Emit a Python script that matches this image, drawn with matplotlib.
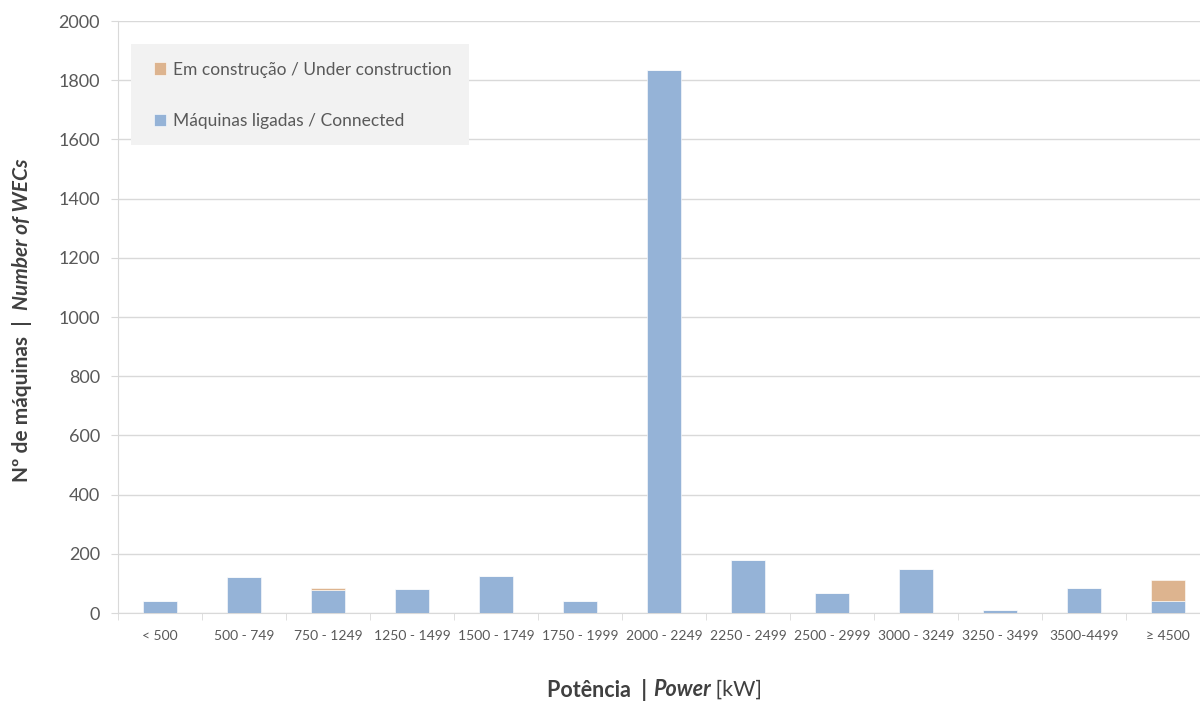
import numpy as np
import matplotlib.pyplot as plt
from matplotlib.patches import Rectangle

categories = ["< 500", "500 - 749", "750 - 1249", "1250 - 1499", "1500 - 1749",
              "1750 - 1999", "2000 - 2249", "2250 - 2499", "2500 - 2999",
              "3000 - 3249", "3250 - 3499", "3500-4499", "\u2265 4500"]
connected = [42, 121, 78, 80, 126, 40, 1835, 178, 66, 150, 9, 85, 40]
under_construction = [0, 0, 7, 0, 0, 0, 0, 0, 0, 0, 0, 0, 71]
y_ticks = list(range(0, 2001, 200))

blue = "#95b3d7"
orange = "#ddb48f"
grid_c = "#d9d9d9"
text_c = "#595959"

plt.rcParams["font.family"] = ["Lato", "DejaVu Sans"]

fig = plt.figure(figsize=(12, 7.01), dpi=100)
ax = fig.add_axes([118 / 1200, 1 - 613 / 701, (1210 - 118) / 1200, (613 - 21) / 701])

x = np.arange(len(categories))
ax.bar(x, connected, width=0.4, color=blue, edgecolor="white", linewidth=0.4,
       label="Máquinas ligadas / Connected", zorder=3)
ax.bar(x, under_construction, width=0.4, bottom=connected, color=orange,
       edgecolor="white", linewidth=0.4, label="Em construção / Under construction", zorder=3)

ax.set_xlim(-0.5, len(categories) - 0.5)
ax.set_ylim(0, 2000)
ax.set_yticks(y_ticks)
ax.yaxis.grid(True, color=grid_c, linewidth=1, zorder=0)
ax.set_axisbelow(True)

ax.set_xticks(x)
ax.set_xticklabels(categories, fontsize=10, color=text_c)
ax.set_xticks(np.arange(-0.5, len(categories), 1), minor=True)
ax.tick_params(axis="x", which="major", length=0, pad=12)
ax.tick_params(axis="x", which="minor", length=5, color=grid_c)
ax.tick_params(axis="y", length=5, color=grid_c, labelsize=13, labelcolor=text_c, pad=8)

for s in ["top", "right"]:
    ax.spines[s].set_visible(False)
for s in ["left", "bottom"]:
    ax.spines[s].set_color(grid_c)

# legend box
ax.add_patch(Rectangle((131 / 1200, 1 - 145 / 701), (469 - 131) / 1200, (145 - 44) / 701,
                       transform=fig.transFigure, facecolor="#f2f2f2", edgecolor="none",
                       zorder=4))
handles, labels = ax.get_legend_handles_labels()
leg = ax.legend(handles[::-1], labels[::-1], loc="upper left",
                bbox_to_anchor=(138 / 1200, 1 - 46 / 701), bbox_transform=fig.transFigure,
                frameon=False, fontsize=12.5, handlelength=0.7, handleheight=0.7,
                handletextpad=0.4, labelspacing=2.05)
leg.set_zorder(5)
for t in leg.get_texts():
    t.set_color(text_c)

# axis labels with mixed styles
lab_c = "#404040"
fig.canvas.draw()
r = fig.canvas.get_renderer()

t1 = fig.text(22 / 1200, 1 - 482 / 701, "Nº de máquinas  |  ", rotation=90, fontsize=15,
              fontweight="bold", color=lab_c, ha="center", va="bottom")
bb = t1.get_window_extent(r)
fig.text(22 / 1200, bb.y1 / fig.bbox.height, "Number of WECs", rotation=90, fontsize=15,
         fontweight="bold", style="italic", color=lab_c, ha="center", va="bottom")

parts = [("Potência  | ", "bold", "normal"), ("Power", "bold", "italic"), (" [kW]", "normal", "normal")]
texts = []
xs = 0
for txt, w, st in parts:
    t = fig.text(xs, 1 - 690 / 701, txt, fontsize=15.5, fontweight=w, style=st,
                 color=lab_c, ha="left", va="center")
    texts.append(t)
    xs = t.get_window_extent(r).x1 / fig.bbox.width
shift = 655 / 1200 - xs / 2
for t in texts:
    px, py = t.get_position()
    t.set_position((px + shift, py))

fig.savefig("out.png", dpi=100)
